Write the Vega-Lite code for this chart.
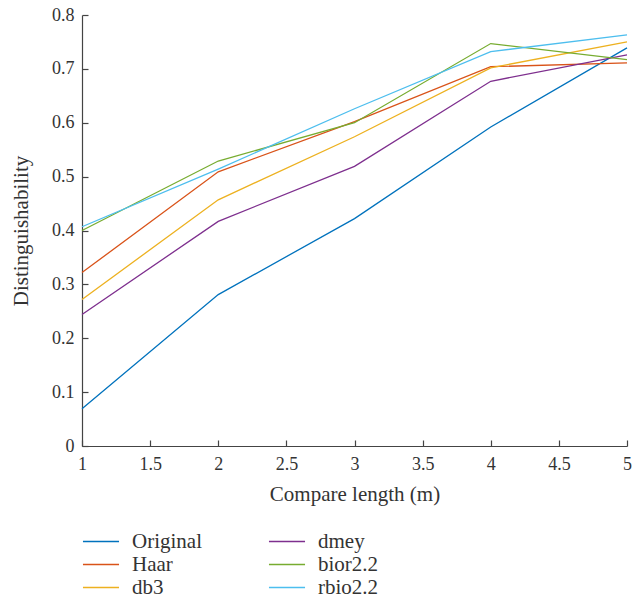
{
  "$schema": "https://vega.github.io/schema/vega-lite/v6.json",
  "width": 545,
  "height": 431,
  "autosize": {"type": "none"},
  "padding": {"left": 82, "top": 15, "right": 15, "bottom": 164},
  "background": "white",
  "config": {
    "view": {"stroke": null},
    "font": "Liberation Serif"
  },
  "data": {
    "values": [
      {"x": 1, "y": 0.069, "s": "Original"},
      {"x": 2, "y": 0.281, "s": "Original"},
      {"x": 3, "y": 0.422, "s": "Original"},
      {"x": 4, "y": 0.592, "s": "Original"},
      {"x": 5, "y": 0.739, "s": "Original"},
      {"x": 1, "y": 0.322, "s": "Haar"},
      {"x": 2, "y": 0.509, "s": "Haar"},
      {"x": 3, "y": 0.602, "s": "Haar"},
      {"x": 4, "y": 0.704, "s": "Haar"},
      {"x": 5, "y": 0.711, "s": "Haar"},
      {"x": 1, "y": 0.272, "s": "db3"},
      {"x": 2, "y": 0.457, "s": "db3"},
      {"x": 3, "y": 0.574, "s": "db3"},
      {"x": 4, "y": 0.702, "s": "db3"},
      {"x": 5, "y": 0.750, "s": "db3"},
      {"x": 1, "y": 0.244, "s": "dmey"},
      {"x": 2, "y": 0.417, "s": "dmey"},
      {"x": 3, "y": 0.519, "s": "dmey"},
      {"x": 4, "y": 0.677, "s": "dmey"},
      {"x": 5, "y": 0.726, "s": "dmey"},
      {"x": 1, "y": 0.400, "s": "bior2.2"},
      {"x": 2, "y": 0.529, "s": "bior2.2"},
      {"x": 3, "y": 0.600, "s": "bior2.2"},
      {"x": 4, "y": 0.747, "s": "bior2.2"},
      {"x": 5, "y": 0.717, "s": "bior2.2"},
      {"x": 1, "y": 0.407, "s": "rbio2.2"},
      {"x": 2, "y": 0.514, "s": "rbio2.2"},
      {"x": 3, "y": 0.626, "s": "rbio2.2"},
      {"x": 4, "y": 0.732, "s": "rbio2.2"},
      {"x": 5, "y": 0.763, "s": "rbio2.2"}
    ]
  },
  "mark": {"type": "line", "strokeWidth": 1.3},
  "encoding": {
    "x": {
      "field": "x",
      "type": "quantitative",
      "scale": {"domain": [1, 5], "nice": false},
      "axis": {
        "title": "Compare length (m)",
        "values": [1, 1.5, 2, 2.5, 3, 3.5, 4, 4.5, 5],
        "labelExpr": "format(datum.value, '')",
        "labelFlush": false,
        "grid": false,
        "domainColor": "#444",
        "domainWidth": 1.2,
        "tickColor": "#444",
        "tickWidth": 1.2,
        "tickSize": -6,
        "labelPadding": 15,
        "labelFontSize": 18,
        "labelColor": "#333",
        "titleFontSize": 21,
        "titleFontWeight": "normal",
        "titleColor": "#333",
        "titlePadding": 10
      }
    },
    "y": {
      "field": "y",
      "type": "quantitative",
      "scale": {"domain": [0, 0.8], "nice": false},
      "axis": {
        "title": "Distinguishability",
        "values": [0, 0.1, 0.2, 0.3, 0.4, 0.5, 0.6, 0.7, 0.8],
        "labelExpr": "datum.value === 0 ? '0' : format(datum.value, '.1f')",
        "labelFlush": false,
        "grid": false,
        "domainColor": "#444",
        "domainWidth": 1.2,
        "tickColor": "#444",
        "tickWidth": 1.2,
        "tickSize": -6,
        "labelPadding": 14,
        "labelFontSize": 18,
        "labelColor": "#333",
        "titleFontSize": 21,
        "titleFontWeight": "normal",
        "titleColor": "#333",
        "titlePadding": 20
      }
    },
    "color": {
      "field": "s",
      "type": "nominal",
      "scale": {
        "domain": ["Original", "Haar", "db3", "dmey", "bior2.2", "rbio2.2"],
        "range": ["#0072BD", "#D95319", "#EDB120", "#7E2F8E", "#77AC30", "#4DBEEE"]
      },
      "legend": {
        "title": null,
        "orient": "none",
        "legendX": 0,
        "legendY": 515,
        "columns": 2,
        "symbolType": "stroke",
        "symbolSize": 1300,
        "symbolStrokeWidth": 1.5,
        "clipHeight": 23,
        "labelFontSize": 21,
        "labelColor": "#333",
        "labelOffset": 12,
        "rowPadding": 0,
        "columnPadding": 66
      }
    }
  }
}
